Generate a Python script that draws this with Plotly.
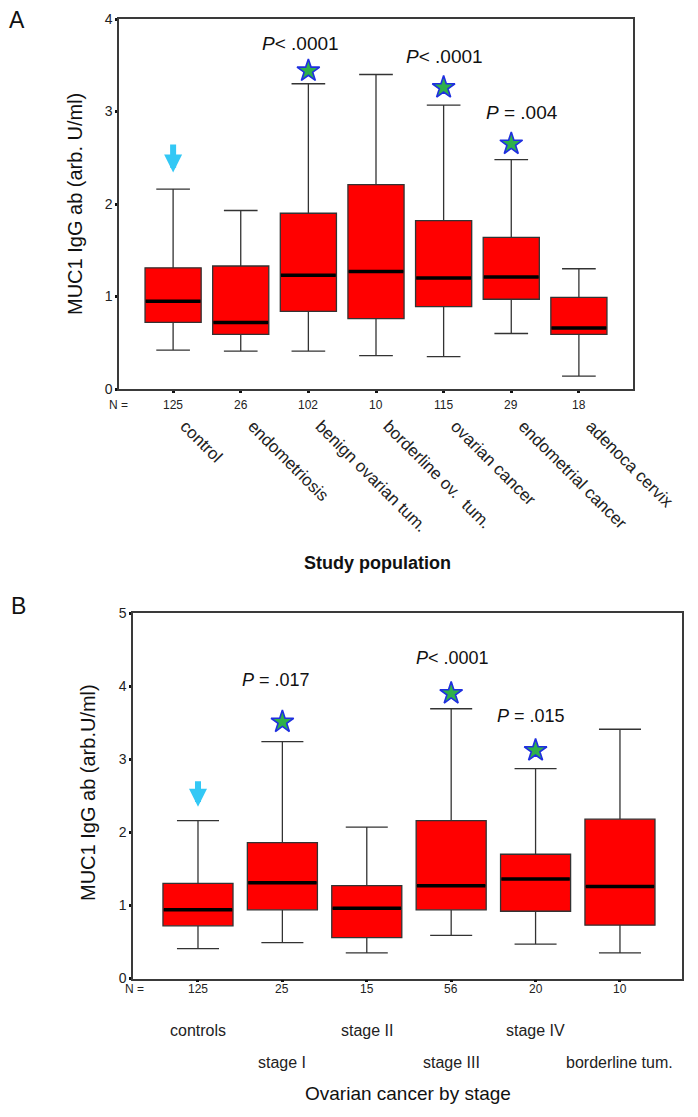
import plotly.graph_objects as go

# ---------------- Panel A data ----------------
top_categories = ["control", "endometriosis", "benign ovarian tum.", "borderline ov.  tum.",
                  "ovarian cancer", "endometrial cancer", "adenoca cervix"]
top_n = [125, 26, 102, 10, 115, 29, 18]
top_lower = [0.42, 0.41, 0.41, 0.36, 0.35, 0.60, 0.14]
top_q1 = [0.72, 0.59, 0.84, 0.76, 0.89, 0.97, 0.59]
top_median = [0.95, 0.72, 1.23, 1.27, 1.20, 1.21, 0.66]
top_q3 = [1.31, 1.33, 1.90, 2.21, 1.82, 1.64, 0.99]
top_upper = [2.16, 1.93, 3.30, 3.40, 3.07, 2.48, 1.30]
top_star_idx = [2, 4, 5]
top_star_y = [3.44, 3.26, 2.65]
top_p_text = ["<i>P</i>< .0001", "<i>P</i>< .0001", "<i>P</i> = .004"]
top_p_x = [1.88, 4.02, 5.16]
top_p_y = [3.74, 3.59, 2.99]
top_arrow = (0, 2.34, 2.66)

# ---------------- Panel B data ----------------
bottom_categories = ["controls", "stage I", "stage II", "stage III", "stage IV", "borderline tum."]
bottom_n = [125, 25, 15, 56, 20, 10]
bottom_lower = [0.41, 0.49, 0.35, 0.59, 0.47, 0.35]
bottom_q1 = [0.72, 0.94, 0.56, 0.94, 0.92, 0.73]
bottom_median = [0.94, 1.31, 0.96, 1.27, 1.36, 1.26]
bottom_q3 = [1.30, 1.86, 1.27, 2.16, 1.70, 2.18]
bottom_upper = [2.16, 3.24, 2.07, 3.69, 2.87, 3.41]
bottom_star_idx = [1, 3, 4]
bottom_star_y = [3.51, 3.90, 3.12]
bottom_p_text = ["<i>P</i> = .017", "<i>P</i>< .0001", "<i>P</i> = .015"]
bottom_p_x = [0.93, 3.02, 3.94]
bottom_p_y = [4.08, 4.38, 3.59]
bottom_arrow = (0, 2.35, 2.72)

FONT = "Liberation Sans, Arial, sans-serif"
W, H = 698, 1117
BOX_W = 0.83
LABEL_SHIFT = 0.18  # rotated labels start slightly right of each tick

fig = go.Figure()


def add_panel(xa, ya, cats, lo, q1, med, q3, up, star_idx, star_y):
    for i in range(len(cats)):
        fig.add_trace(go.Box(
            x=[i], q1=[q1[i]], median=[med[i]], q3=[q3[i]],
            lowerfence=[lo[i]], upperfence=[up[i]],
            width=BOX_W, whiskerwidth=0.6, fillcolor="#FF0000",
            line=dict(color="#333333", width=1.3), boxpoints=False,
            xaxis=xa, yaxis=ya, showlegend=False, hoverinfo="skip"))
    mx, my = [], []
    for i, m in enumerate(med):
        mx += [i - BOX_W / 2 + 0.01, i + BOX_W / 2 - 0.01, None]
        my += [m, m, None]
    fig.add_trace(go.Scatter(x=mx, y=my, mode="lines", line=dict(color="#000000", width=3.5),
                             xaxis=xa, yaxis=ya, showlegend=False, hoverinfo="skip"))
    fig.add_trace(go.Scatter(x=star_idx, y=star_y, mode="markers",
                             marker=dict(symbol="star", size=17, color="#2FB04A",
                                         line=dict(color="#1F2FE0", width=1.6)),
                             xaxis=xa, yaxis=ya, showlegend=False, hoverinfo="skip"))


add_panel("x", "y", top_categories, top_lower, top_q1, top_median, top_q3, top_upper,
          top_star_idx, top_star_y)
add_panel("x2", "y2", bottom_categories, bottom_lower, bottom_q1, bottom_median, bottom_q3,
          bottom_upper, bottom_star_idx, bottom_star_y)
# empty trace so the label-only axis is drawn
fig.add_trace(go.Scatter(x=[], y=[], xaxis="x3", yaxis="y", showlegend=False, hoverinfo="skip"))


def px_x(p):
    return p / W


def px_y(p):
    return 1 - p / H


axis_common = dict(showline=True, mirror=True, linecolor="#3a3a3a", linewidth=1.5,
                   showgrid=False, zeroline=False, ticks="outside", ticklen=2, tickwidth=3,
                   tickcolor="#111111", automargin=False)

annotations = []


def ann(**kw):
    kw.setdefault("showarrow", False)
    kw.setdefault("xanchor", "center")
    kw.setdefault("yanchor", "middle")
    annotations.append(kw)


top_dom = [px_x(119), px_x(633)]
fig.update_layout(
    xaxis=dict(domain=top_dom, range=[-0.8, 6.8], anchor="y",
               tickvals=list(range(len(top_categories))), ticktext=[""] * len(top_categories),
               **axis_common),
    xaxis3=dict(domain=top_dom, range=[-0.8, 6.8], anchor="y", overlaying="x",
                tickvals=[i + LABEL_SHIFT for i in range(len(top_categories))],
                ticktext=top_categories, tickangle=45, ticklabelstandoff=23,
                showline=False, showgrid=False, zeroline=False, ticks="", automargin=False,
                tickfont=dict(family=FONT, size=17, color="#222222")),
    yaxis=dict(domain=[px_y(389), px_y(19)], range=[0, 4], anchor="x", dtick=1,
               tickfont=dict(family=FONT, size=14, color="#222222"), **axis_common),
    xaxis2=dict(domain=[px_x(133), px_x(682)], range=[-0.77, 5.735], anchor="y2",
                tickvals=list(range(len(bottom_categories))), ticktext=[""] * len(bottom_categories),
                **axis_common),
    yaxis2=dict(domain=[px_y(978.5), px_y(613)], range=[0, 5], anchor="x2", dtick=1,
                tickfont=dict(family=FONT, size=14, color="#222222"), **axis_common),
)

NFONT = dict(family=FONT, size=12, color="#222")
# N rows
ann(x=px_x(118), y=px_y(405), xref="paper", yref="paper", text="N =", font=NFONT)
for i, n in enumerate(top_n):
    ann(x=i, y=px_y(405), xref="x", yref="paper", text=str(n), font=NFONT)
ann(x=px_x(134), y=px_y(989), xref="paper", yref="paper", text="N =", font=NFONT)
for i, n in enumerate(bottom_n):
    ann(x=i, y=px_y(989), xref="x2", yref="paper", text=str(n), font=NFONT)

# bottom category labels (alternating rows)
for i, c in enumerate(bottom_categories):
    yy = 1030 if i % 2 == 0 else 1062
    ann(x=i, y=px_y(yy), xref="x2", yref="paper", text=c,
        font=dict(family=FONT, size=16, color="#222"))

# axis titles
ann(x=px_x(377), y=px_y(563), xref="paper", yref="paper", text="<b>Study population</b>",
    font=dict(family=FONT, size=18, color="#111"))
ann(x=px_x(408), y=px_y(1093), xref="paper", yref="paper", text="Ovarian cancer by stage",
    font=dict(family=FONT, size=19, color="#111"))
ann(x=px_x(75), y=px_y(204), xref="paper", yref="paper", text="MUC1 IgG ab (arb. U/ml)",
    textangle=-90, font=dict(family=FONT, size=20, color="#111"))
ann(x=px_x(88), y=px_y(793), xref="paper", yref="paper", text="MUC1 IgG ab (arb.U/ml)",
    textangle=-90, font=dict(family=FONT, size=20, color="#111"))

# panel letters
ann(x=px_x(17), y=px_y(20), xref="paper", yref="paper", text="A",
    font=dict(family=FONT, size=23, color="#111"))
ann(x=px_x(18), y=px_y(606), xref="paper", yref="paper", text="B",
    font=dict(family=FONT, size=23, color="#111"))

# P-values
for t, x, y in zip(top_p_text, top_p_x, top_p_y):
    ann(x=x, y=y, xref="x", yref="y", text=t, font=dict(family=FONT, size=19, color="#111"))
for t, x, y in zip(bottom_p_text, bottom_p_x, bottom_p_y):
    ann(x=x, y=y, xref="x2", yref="y2", text=t, font=dict(family=FONT, size=18, color="#111"))

# arrows
for (xa, ya, arr) in [("x", "y", top_arrow), ("x2", "y2", bottom_arrow)]:
    annotations.append(dict(x=arr[0], y=arr[1], ax=arr[0], ay=arr[2], xref=xa, yref=ya,
                            axref=xa, ayref=ya, text="", showarrow=True, arrowhead=2,
                            arrowsize=0.6, arrowwidth=6, arrowcolor="#33C8F5"))

fig.update_layout(annotations=annotations, width=W, height=H,
                  margin=dict(l=0, r=0, t=0, b=0, autoexpand=False), plot_bgcolor="white",
                  paper_bgcolor="white", showlegend=False)

fig.write_html("out.html", config={"displayModeBar": False},
               post_script="document.body.style.margin='0';document.body.style.overflow='hidden';")
